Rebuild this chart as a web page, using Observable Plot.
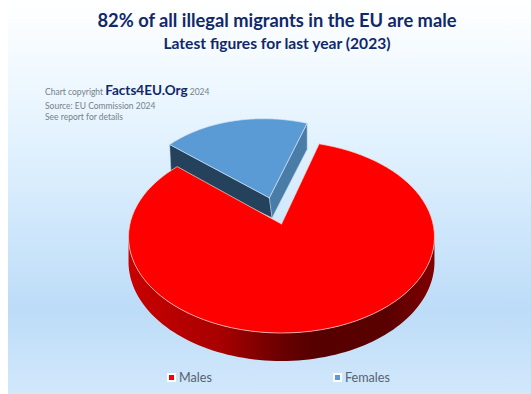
<!DOCTYPE html>
<html>
<head>
<meta charset="utf-8">
<script src="https://cdn.jsdelivr.net/npm/d3@7"></script>
<script src="https://cdn.jsdelivr.net/npm/@observablehq/plot@0.6"></script>
<style>
html,body{margin:0;padding:0;background:#fff;}
#page{position:relative;width:523px;height:394px;margin-left:8px;overflow:hidden;font-family:Lato,sans-serif;
background:linear-gradient(to bottom,#ffffff 0px,#f1f9ff 70px,#e0f1fe 150px,#bddcf8 310px,#d2e8fb 394px);}
#head{height:112px;position:relative;}
#t1{position:absolute;left:0;width:538px;top:8px;text-align:center;font-weight:700;font-size:18.3px;line-height:24px;color:#10296a;}
#t2{position:absolute;left:0;width:538px;top:33px;text-align:center;font-weight:700;font-size:15.6px;line-height:21px;color:#10296a;}
.n{position:absolute;left:37px;font-size:8.5px;line-height:11px;color:#777f88;white-space:nowrap;}
.n b{font-size:13.5px;color:#10296a;font-weight:700;}
#legend{position:absolute;top:371px;left:0;width:523px;height:16px;font-size:12.6px;line-height:14px;color:#56626f;}
.it{position:absolute;top:0;white-space:nowrap;}
.sw{display:inline-block;width:5px;height:5px;border:2px solid #fff;margin-right:3px;vertical-align:0px;}
svg{display:block;background:transparent;}
</style>
</head>
<body>
<div id="page">
  <div id="head">
    <div id="t1">82% of all illegal migrants in the EU are male</div>
    <div id="t2">Latest figures for last year (2023)</div>
    <div class="n" style="top:85px">Chart copyright <b>Facts4EU.Org</b> 2024</div>
    <div class="n" style="top:101px">Source: EU Commission 2024</div>
    <div class="n" style="top:112px">See report for details</div>
  </div>
  <div id="chart"></div>
  <div id="legend"></div>
</div>
<script>
const categories = ["Males", "Females"];
const shares = [82, 18];
const colors = ["#ff0000", "#5b9bd5"];

// view of the pie: perspective of the plane, rotation of first slice
const persp = 0.135, firstAngle = 16.3, explode = 0.3;
const rim = 0.2566;

const deg = Math.PI / 180;
const total = d3.sum(shares);
const sweep = shares.map(s => s / total * 360);
// clockwise degrees from 12 o'clock -> math radians
const rad = a => (90 - a) * deg;
const project = (u, v, drop = 0) => {
  const w = 1 + persp * v;
  return {x: u / w, y: v / w - drop / w};
};
const arc = (a0, a1, opt = {}) => {
  const {cx = 0, cy = 0, drop = 0, bulge = 0} = opt;
  const n = 90;
  return d3.range(n + 1).map(i => {
    const s = i / n, t = rad(a0 + (a1 - a0) * s), r = 1 + bulge * Math.sin(Math.PI * s);
    return project(cx + r * Math.cos(t), cy + r * Math.sin(t), drop);
  });
};
const maleStart = firstAngle, maleEnd = firstAngle + sweep[0];
const femStart = maleEnd, femEnd = femStart + sweep[1];
const mid = rad((femStart + femEnd) / 2);
const ex = explode * Math.cos(mid), ey = explode * Math.sin(mid);

// top faces
const apexM = project(0, 0);
const maleTop = [apexM, ...arc(maleStart, maleEnd), apexM];
const apexF = project(ex, ey);
const femArc = arc(femStart, femEnd, {cx: ex, cy: ey, bulge: 0.035});
const femTop = [apexF, ...femArc, apexF];

// female cut faces
const fApexDrop = {x: apexF.x + 0.018, y: apexF.y - 0.212};
const fDepth = 0.276;
const atDepth = (p, dx = 0) => ({x: p.x + dx, y: p.y - fDepth});
const femLeft = [apexF, femArc[0], atDepth(femArc[0], 0.008), fApexDrop, apexF];
const femRight = [apexF, femArc[femArc.length - 1], atDepth(femArc[femArc.length - 1]), fApexDrop, apexF];

// male front wall
const wallTop = arc(90 + 9, 270 - 9);
const wallBot = arc(270 - 9, 90 + 9, {drop: rim});
const maleWall = [...wallTop, ...wallBot, wallTop[0]];

const face = (pts, fill, extra = {}) =>
  Plot.line(pts, {x: "x", y: "y", z: null, fill, stroke: "none", curve: "linear", ...extra});

const svgTop = 112;
const plot = Plot.plot({
  width: 523, height: 252,
  margin: 0,
  x: {domain: [-1, 1], range: [281 - 8 - 151.6, 281 - 8 + 151.6], axis: null},
  y: {domain: [-1, 1], range: [223.5 - svgTop + 94.3, 223.5 - svgTop - 94.3], axis: null},
  style: {background: "transparent", overflow: "visible"},
  marks: [
    () => {
      const d = d3.create("svg:defs");
      const g = d.append("linearGradient").attr("id", "wall").attr("x1", 0).attr("x2", 1).attr("y1", 0).attr("y2", 0);
      [[0, "#c80000"], [0.3, "#a80000"], [0.5, "#6a0000"], [0.6, "#560000"], [0.85, "#5a0000"], [1, "#800000"]]
        .forEach(([o, c]) => g.append("stop").attr("offset", o).attr("stop-color", c));
      return d.node();
    },
    face(femLeft, "#25425c", {stroke: "#b9d0e6", strokeWidth: 0.5}),
    face(femRight, "#4a7ca8", {stroke: "#b9d0e6", strokeWidth: 0.5}),
    face(femTop, colors[1], {stroke: "#d5e6f5", strokeWidth: 0.7}),
    face(maleWall, "url(#wall)"),
    face(maleTop, colors[0], {stroke: "#f8d8d0", strokeWidth: 0.7})
  ]
});
document.getElementById("chart").appendChild(plot);

const legend = document.getElementById("legend");
[159, 325].forEach((left, i) => {
  const it = document.createElement("div");
  it.className = "it";
  it.style.left = left + "px";
  const sw = document.createElement("span");
  sw.className = "sw";
  sw.style.background = colors[i];
  it.appendChild(sw);
  it.appendChild(document.createTextNode(categories[i]));
  legend.appendChild(it);
});
</script>
</body>
</html>
